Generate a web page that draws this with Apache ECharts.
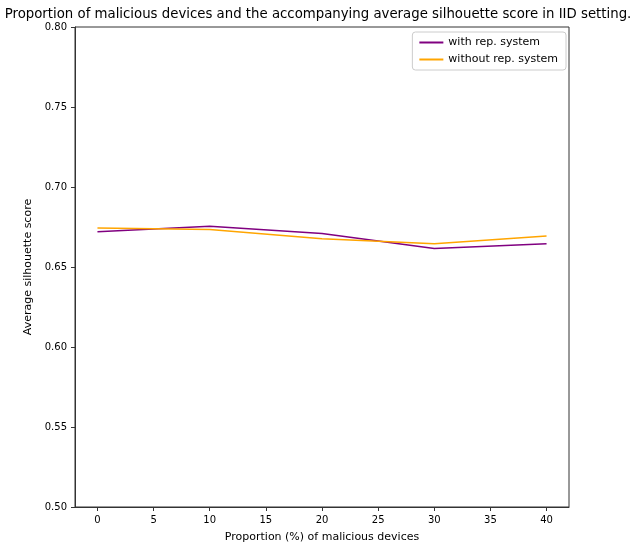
<!DOCTYPE html>
<html>
<head>
<meta charset="utf-8">
<script src="https://cdn.jsdelivr.net/npm/echarts@6/dist/echarts.min.js"></script>
<style>
  html, body { margin: 0; padding: 0; background: #fff; }
  #chart { width: 636px; height: 542px; }
</style>
</head>
<body>
<div id="chart"></div>
<script>
// Proportion of malicious devices (%)
const proportions = [0, 10, 20, 30, 40];
// Average silhouette score per setting
const withRep = [0.672, 0.6754, 0.6709, 0.6615, 0.6646];
const withoutRep = [0.6744, 0.6734, 0.6676, 0.6646, 0.6694];
// Axis ranges and tick steps
const xRange = [-2, 42];
const xTickRange = [0, 40];
const xStep = 5;
const yRange = [0.5, 0.8];
const yStep = 0.05;

const font = 'DejaVu Sans';
const pair = (xs, ys) => xs.map((x, i) => [x, ys[i]]);

// Plot frame in pixels
const frame = { left: 75, right: 67, top: 27, bottom: 35 };
const chartW = 636;
const pxPerUnit = (chartW - frame.left - frame.right) / (xRange[1] - xRange[0]);
// A second, frameless grid carries the tick axis so ticks sit only on 0..40
const tickGrid = {
  left: frame.left + (xTickRange[0] - xRange[0]) * pxPerUnit,
  right: frame.right + (xRange[1] - xTickRange[1]) * pxPerUnit,
  top: frame.top, bottom: frame.bottom
};
const axisColor = '#333';

const chart = echarts.init(document.getElementById('chart'), null, { renderer: 'canvas' });
chart.setOption({
  animation: false,
  backgroundColor: '#fff',
  textStyle: { fontFamily: font },
  title: {
    text: 'Proportion of malicious devices and the accompanying average silhouette score in IID setting.',
    left: 'center',
    top: 3,
    textStyle: { fontFamily: font, fontSize: 13.3, fontWeight: 'normal', color: '#000' }
  },
  grid: [
    Object.assign({ show: true, borderColor: axisColor, borderWidth: 1,
      containLabel: false, outerBoundsMode: 'none' }, frame),
    Object.assign({ show: false, containLabel: false, outerBoundsMode: 'none' }, tickGrid)
  ],
  legend: {
    right: 70, top: 32,
    orient: 'vertical',
    itemWidth: 24, itemHeight: 2, itemGap: 6,
    padding: [5, 8, 5, 7],
    borderColor: '#ccc', borderWidth: 1, borderRadius: 3,
    backgroundColor: '#fff',
    textStyle: { fontFamily: font, fontSize: 11, color: '#000' },
    icon: 'rect',
    data: ['with rep. system', 'without rep. system']
  },
  xAxis: [
    {
      type: 'value', gridIndex: 0,
      min: xRange[0], max: xRange[1],
      axisLine: { show: true, onZero: false, lineStyle: { color: axisColor } },
      axisTick: { show: false },
      axisLabel: { show: false },
      splitLine: { show: false }
    },
    {
      type: 'value', gridIndex: 1,
      min: xTickRange[0], max: xTickRange[1], interval: xStep,
      name: 'Proportion (%) of malicious devices',
      nameLocation: 'middle', nameGap: 25,
      nameTextStyle: { fontFamily: font, fontSize: 11, color: '#000' },
      axisLine: { show: true, onZero: false, lineStyle: { color: axisColor } },
      axisTick: { show: true, inside: false, length: 4, lineStyle: { color: axisColor, width: 1 } },
      axisLabel: { fontFamily: font, fontSize: 10, color: '#000', margin: 8 },
      splitLine: { show: false }
    }
  ],
  yAxis: [
    {
      type: 'value', gridIndex: 0,
      min: yRange[0], max: yRange[1], interval: yStep,
      name: 'Average silhouette score',
      nameLocation: 'middle', nameGap: 36, nameRotate: 90,
      nameTextStyle: { fontFamily: font, fontSize: 11, color: '#000' },
      axisLine: { show: true, onZero: false, lineStyle: { color: axisColor } },
      axisTick: { show: true, inside: false, length: 4, lineStyle: { color: axisColor, width: 1 } },
      axisLabel: { fontFamily: font, fontSize: 10, color: '#000', margin: 8,
        formatter: v => v.toFixed(2) },
      splitLine: { show: false }
    },
    {
      type: 'value', gridIndex: 1, show: false,
      min: yRange[0], max: yRange[1]
    }
  ],
  series: [
    {
      name: 'with rep. system', type: 'line',
      xAxisIndex: 0, yAxisIndex: 0,
      data: pair(proportions, withRep),
      symbol: 'none', color: '#800080',
      lineStyle: { width: 1.5, color: '#800080' }
    },
    {
      name: 'without rep. system', type: 'line',
      xAxisIndex: 0, yAxisIndex: 0,
      data: pair(proportions, withoutRep),
      symbol: 'none', color: '#FFA500',
      lineStyle: { width: 1.5, color: '#FFA500' }
    }
  ]
});
</script>
</body>
</html>
